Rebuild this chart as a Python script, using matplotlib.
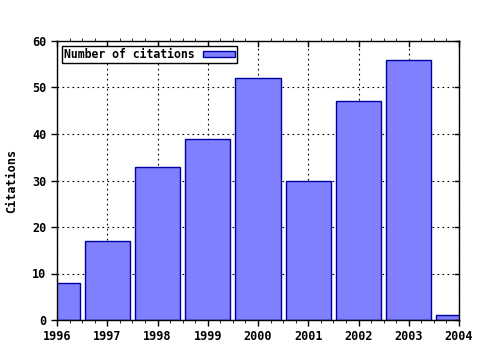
import matplotlib
matplotlib.use("Agg")
import matplotlib.pyplot as plt
from matplotlib.ticker import MultipleLocator

years = [1996, 1997, 1998, 1999, 2000, 2001, 2002, 2003, 2004]
citations = [8, 17, 33, 39, 52, 30, 47, 56, 1]
label = "Number of citations"

plt.rcParams['font.family'] = 'DejaVu Sans Mono'
plt.rcParams['font.weight'] = 'bold'

fig = plt.figure(figsize=(4.8, 3.5), dpi=100)
ax = fig.add_axes([57/480, 1 - 320/350, (459-57)/480, (320-41)/350])

ax.bar(years, citations, width=0.9, color='#8080ff', edgecolor='#0000a0',
       linewidth=1.0, label=label, zorder=3)

ax.set_xlim(1996, 2004)
ax.set_ylim(0, 60)
ax.xaxis.set_minor_locator(MultipleLocator(0.25))
ax.yaxis.set_major_locator(MultipleLocator(10))
ax.set_xticks(years)
ax.set_xticklabels([str(y) for y in years])

ax.grid(True, which='major', color='black', linestyle=(0, (1.5, 3)), linewidth=0.8, zorder=0)
ax.tick_params(axis='both', which='major', labelsize=8.5, length=4, width=1,
               direction='out', top=False, right=False)
ax.tick_params(axis='x', which='minor', length=2, direction='out', top=True)
ax.set_ylabel("Citations", fontsize=8.5, fontweight='bold', labelpad=10)

# mirrored inward ticks on top and right
for y in range(0, 61, 10):
    ax.plot([2004 - 0.08, 2004], [y, y], color='black', lw=1, clip_on=False, zorder=4)
for x in years:
    ax.plot([x, x], [60, 59], color='black', lw=1, clip_on=False, zorder=4)

for s in ax.spines.values():
    s.set_linewidth(1)
    s.set_zorder(5)

leg = ax.legend(loc='upper left', markerfirst=False, prop={'size': 8.3, 'weight': 'bold'},
                frameon=True, fancybox=False, borderpad=0.2, handlelength=2.8,
                handleheight=0.5, handletextpad=0.7, borderaxespad=0.4, framealpha=1)
leg.get_frame().set_edgecolor('black')
leg.get_frame().set_linewidth(1)

fig.savefig("out.png", dpi=100)
